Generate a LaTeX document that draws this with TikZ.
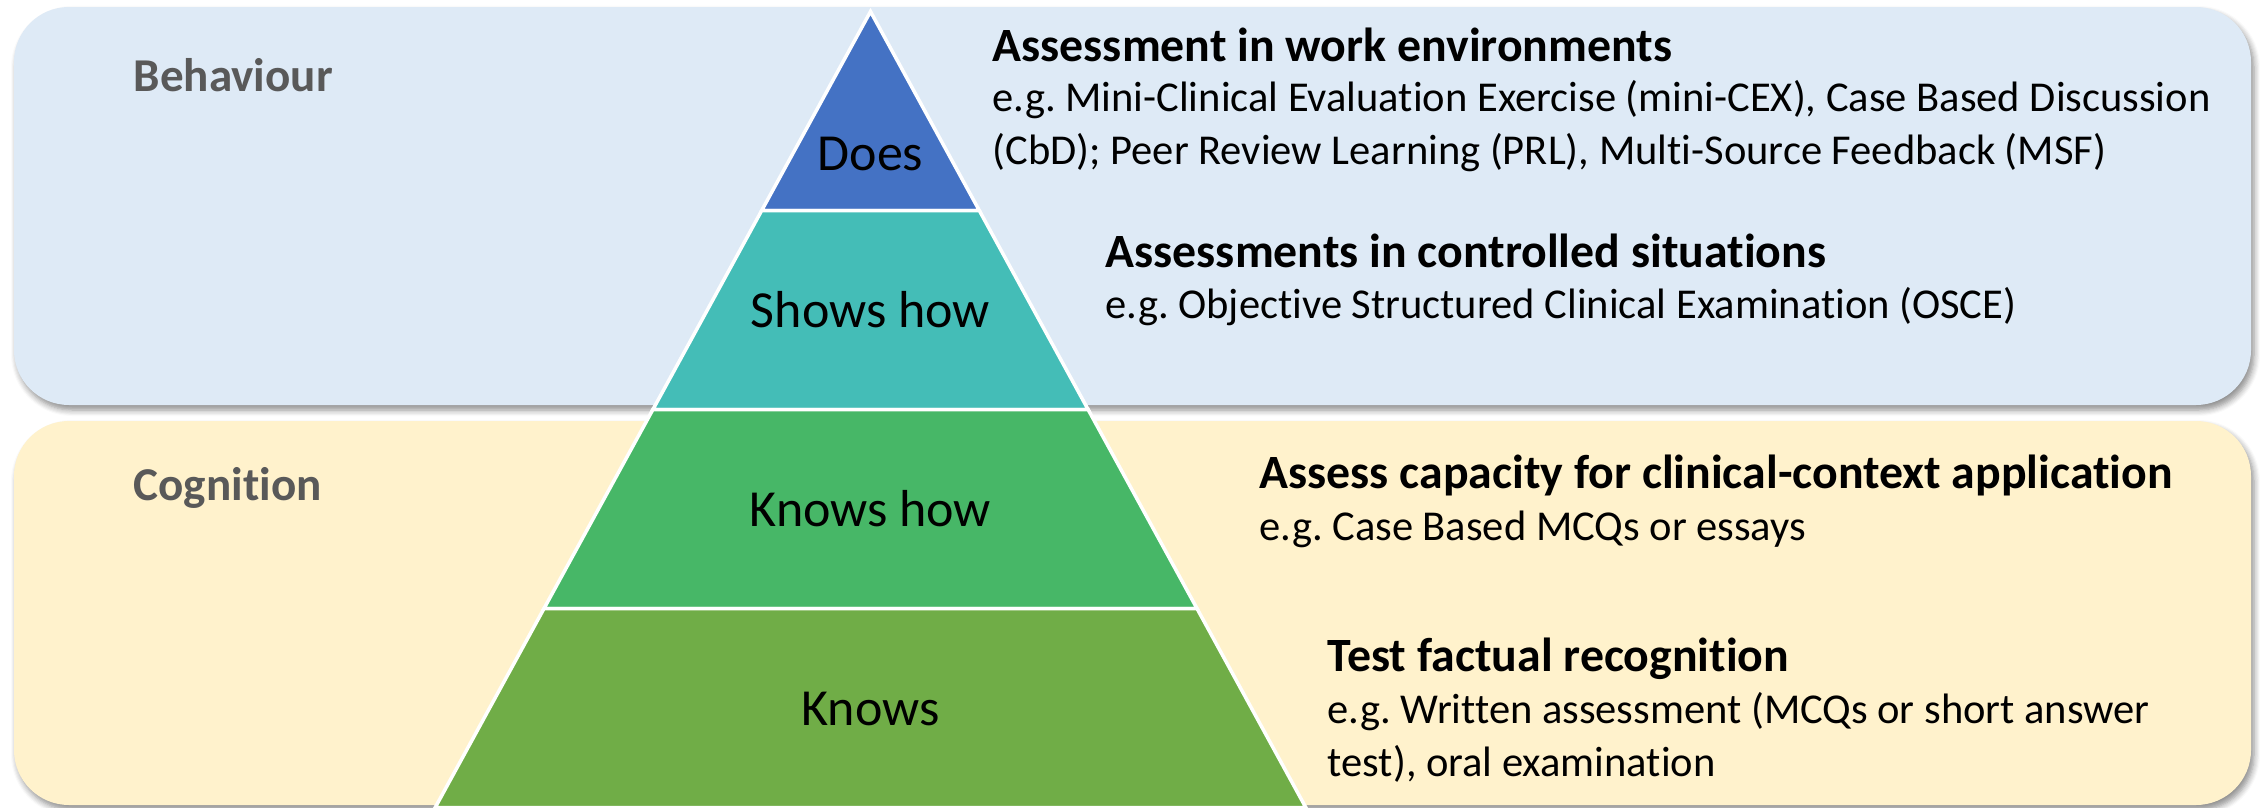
\documentclass[tikz,border=0pt]{standalone}
\usepackage{fontspec}
\setmainfont{Carlito}[Ligatures=NoCommon]
\usetikzlibrary{shadows.blur}

\definecolor{behavbg}{HTML}{DEEAF6}
\definecolor{cognbg}{HTML}{FFF2CC}
\definecolor{doesblue}{HTML}{4472C4}
\definecolor{showsteal}{HTML}{44BDB7}
\definecolor{knowshowgreen}{HTML}{47B767}
\definecolor{knowsgreen}{HTML}{70AD47}
\definecolor{bandgray}{HTML}{595959}

\begin{document}
\frenchspacing
\begin{tikzpicture}[
		band/.style={rounded corners=0.55cm, blur shadow={shadow xshift=0.03cm, shadow yshift=-0.05cm, shadow blur steps=6, shadow blur radius=0.06cm, shadow opacity=45}},
		tier/.style={draw=white, line width=1pt, line join=miter},
		tierlabel/.style={anchor=base, inner sep=0pt, font=\fontsize{14.8}{17}\selectfont},
		bandlabel/.style={anchor=base west, inner sep=0pt, text=bandgray, font=\bfseries\fontsize{13.4}{16}\selectfont},
		headline/.style={anchor=base west, inner sep=0pt, font=\bfseries\fontsize{13.6}{16}\selectfont},
		example/.style={anchor=base west, inner sep=0pt, align=left, font=\fontsize{12.1}{14.8}\selectfont}
	]
		\useasboundingbox (0, 0) rectangle (22.6, 8.07);
		
		% the two bands behind the pyramid
		\fill[behavbg, band] (0.14, 4.02) rectangle (22.51, 8.0);
		\fill[cognbg, band] (0.14, 0.02) rectangle (22.51, 3.86);
		\node[bandlabel] (behav) at (1.33, 7.16) {Behaviour};
		\node[bandlabel] (cogn) at (1.33, 3.07) {Cognition};
		
		% pyramid, apex at (8.705, 7.955), four tiers of equal height
		\filldraw[tier, fill=doesblue] (8.705, 7.955) -- (9.793, 5.965) -- (7.617, 5.965) -- cycle;
		\filldraw[tier, fill=showsteal] (7.617, 5.965) -- (9.793, 5.965) -- (10.881, 3.975) -- (6.529, 3.975) -- cycle;
		\filldraw[tier, fill=knowshowgreen] (6.529, 3.975) -- (10.881, 3.975) -- (11.970, 1.985) -- (5.440, 1.985) -- cycle;
		\filldraw[tier, fill=knowsgreen] (5.440, 1.985) -- (11.970, 1.985) -- (13.058, -0.005) -- (4.352, -0.005) -- cycle;
		
		\node[tierlabel] (does) at (8.705, 6.37) {Does};
		\node[tierlabel] (shows) at (8.705, 4.80) {Shows how};
		\node[tierlabel] (knowshow) at (8.705, 2.81) {Knows how};
		\node[tierlabel] (knows) at (8.705, 0.82) {Knows};
		
		% assessment methods beside each tier
		% (two-line nodes sit on the baseline of their last line)
		\node[headline] (work) at (9.92, 7.46) {Assessment in work environments};
		\node[example] (workeg) at (9.92, 6.43) {e.g. Mini-Clinical Evaluation Exercise (mini-CEX), Case Based Discussion\\(CbD); Peer Review Learning (PRL), Multi-Source Feedback (MSF)};
		
		\node[headline] (ctrl) at (11.05, 5.40) {Assessments in controlled situations};
		\node[example] (ctrleg) at (11.05, 4.89) {e.g. Objective Structured Clinical Examination (OSCE)};
		
		\node[headline] (appl) at (12.59, 3.19) {Assess capacity for clinical-context application};
		\node[example] (appleg) at (12.59, 2.67) {e.g. Case Based MCQs or essays};
		
		\node[headline] (fact) at (13.27, 1.36) {Test factual recognition};
		\node[example] (facteg) at (13.27, 0.31) {e.g. Written assessment (MCQs or short answer\\test), oral examination};
	\end{tikzpicture}
\end{document}
